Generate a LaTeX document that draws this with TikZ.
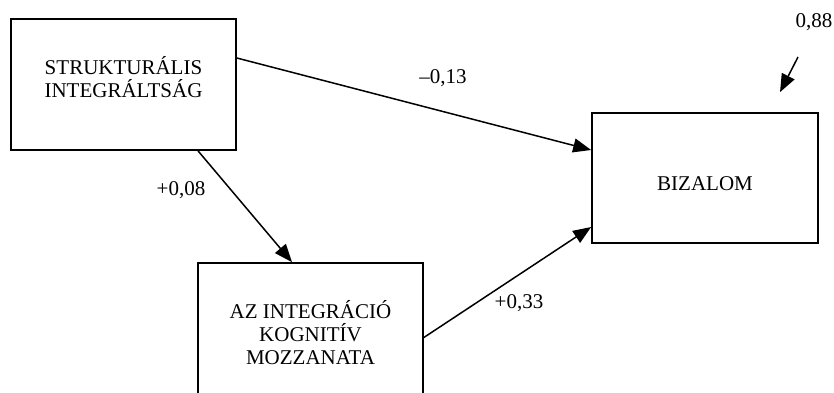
\documentclass[tikz,border=0pt]{standalone}
\usepackage{fontspec}
\setmainfont{Liberation Serif}
\usetikzlibrary{arrows.meta}
\begin{document}
\begin{tikzpicture}[x=1pt, y=-1pt, >={Triangle[length=18pt,width=14pt]}, font=\fontsize{21}{23}\selectfont]
    \tikzstyle{box}=[draw, line width=1.7pt, minimum width=225pt, minimum height=131pt, align=center, inner sep=0pt]
    \tikzstyle{path}=[->, line width=1.5pt]
    \tikzstyle{coef}=[inner sep=0pt, anchor=center]
    \useasboundingbox (0,0) rectangle (834,392);

    \node[box, text depth=16pt] (strukt) at (123.5,84.5) {STRUKTURÁLIS\\INTEGRÁLTSÁG};
    \node[box, minimum width=226pt, minimum height=130pt, text height=26pt] (bizalom) at (705,178) {BIZALOM};
    \node[box, text height=72pt] (kogn) at (310.5,328.5) {AZ INTEGRÁCIÓ\\KOGNITÍV\\MOZZANATA};

    \draw[path] ([yshift=26.5pt]strukt.east) -- ([yshift=28pt]bizalom.west);
    \draw[path] ([xshift=74.5pt]strukt.south) -- ([xshift=-18.5pt]kogn.north);
    \draw[path] ([yshift=-9pt]kogn.east) -- ([yshift=-49pt]bizalom.west);

    % residual
    \coordinate (resid) at (798,57);
    \draw[path] (resid) -- ([xshift=75pt, yshift=20pt]bizalom.north);

    \node[coef] (c1) at (443,78) {–0,13};
    \node[coef] (c2) at (181,190) {+0,08};
    \node[coef] (c3) at (519,303) {+0,33};
    \node[coef] (c4) at (814,22) {0,88};
  \end{tikzpicture}
\end{document}
